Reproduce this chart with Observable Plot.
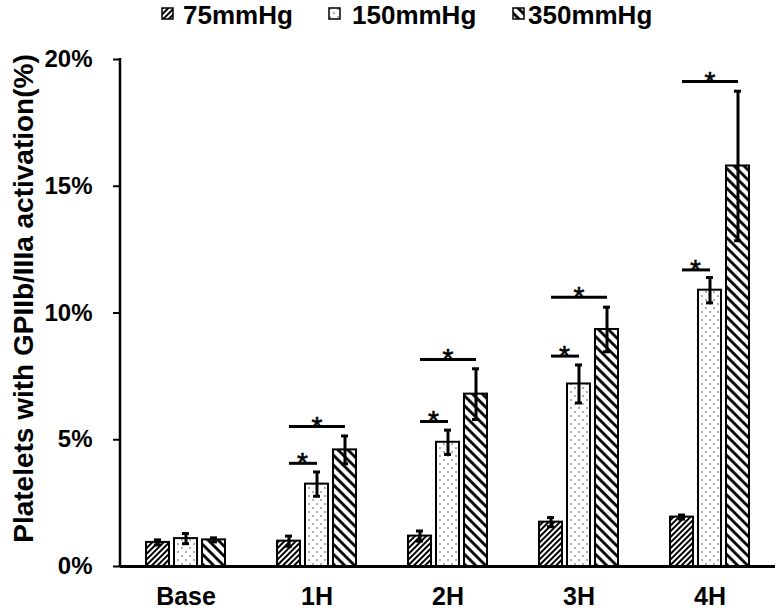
<!DOCTYPE html>
<html>
<head>
<meta charset="utf-8">
<script src="https://cdn.jsdelivr.net/npm/d3@7"></script>
<script src="https://cdn.jsdelivr.net/npm/@observablehq/plot@0.6"></script>
<style>
  body { margin: 0; background: #fff; font-family: Arial, "Liberation Sans", sans-serif; }
  #legend { position: relative; width: 780px; height: 30px; }
  #legend .sw { position: absolute; top: 7px; width: 13px; height: 13px; }
  #legend .lbl { position: absolute; top: 1px; height: 29px; line-height: 29px; font-size: 26px; font-weight: bold; color: #000; white-space: nowrap; }
</style>
</head>
<body>
<svg width="0" height="0" style="position:absolute">
  <defs>
    <pattern id="p75" patternUnits="userSpaceOnUse" width="4" height="4" patternTransform="rotate(45)">
      <rect width="4" height="4" fill="#fff"/>
      <line x1="2" y1="0" x2="2" y2="4" stroke="#000" stroke-width="2"/>
    </pattern>
    <pattern id="p150" patternUnits="userSpaceOnUse" width="8" height="8">
      <rect width="8" height="8" fill="#fff"/>
      <circle cx="2" cy="2" r="0.8" fill="#444"/>
      <circle cx="6" cy="6" r="0.8" fill="#444"/>
    </pattern>
    <pattern id="p350" patternUnits="userSpaceOnUse" width="7" height="7" patternTransform="rotate(-45)">
      <rect width="7" height="7" fill="#fff"/>
      <line x1="3.5" y1="0" x2="3.5" y2="7" stroke="#000" stroke-width="2.8"/>
    </pattern>
  </defs>
</svg>
<div id="legend"></div>
<div id="chart"></div>
<script>
// ---- data ----
const categories = ["Base", "1H", "2H", "3H", "4H"];
const series = ["75mmHg", "150mmHg", "350mmHg"];
const mean75  = [0.95, 1.0, 1.2, 1.75, 1.95];
const sd75    = [0.1, 0.2, 0.2, 0.18, 0.08];
const mean150 = [1.1, 3.25, 4.9, 7.2, 10.9];
const sd150   = [0.2, 0.48, 0.48, 0.75, 0.5];
const mean350 = [1.05, 4.6, 6.8, 9.35, 15.8];
const sd350   = [0.08, 0.55, 1.0, 0.88, 2.95];
const yTicks = [0, 5, 10, 15, 20];
const bracketCats = ["1H", "2H", "3H", "4H"];
const shortBracketY = [4.07, 5.72, 8.3, 11.7];
const longBracketY  = [5.52, 8.17, 10.62, 19.13];
const yLabel = "Platelets with GPIIb/IIIa activation(%)";

// ---- styles ----
const fills = {"75mmHg": "url(#p75)", "150mmHg": "url(#p150)", "350mmHg": "url(#p350)"};

// ---- tables ----
const means = [mean75, mean150, mean350];
const sds = [sd75, sd150, sd350];
const rows = [];
categories.forEach((c, i) => series.forEach((s, j) => rows.push({cat: c, series: s, value: means[j][i], err: sds[j][i]})));
const shortRows = bracketCats.map((c, i) => ({cat: c, y: shortBracketY[i]}));
const longRows = bracketCats.map((c, i) => ({cat: c, y: longBracketY[i]}));

// ---- legend ----
const legendPos = [[161, 183], [328, 352], [512, 528]];
const legend = document.getElementById("legend");
series.forEach((s, j) => {
  const sw = document.createElementNS("http://www.w3.org/2000/svg", "svg");
  sw.setAttribute("class", "sw");
  sw.style.left = legendPos[j][0] + "px";
  sw.innerHTML = `<rect x="1" y="1" width="11" height="11" fill="${fills[s]}" stroke="#000" stroke-width="1.5"/>`;
  legend.appendChild(sw);
  const t = document.createElement("span");
  t.className = "lbl";
  t.style.left = legendPos[j][1] + "px";
  t.textContent = s;
  legend.appendChild(t);
});

// ---- chart ----
const font = "Arial, 'Liberation Sans', sans-serif";
const chart = Plot.plot({
  width: 780,
  height: 581,
  marginLeft: 120,
  marginRight: 5,
  marginTop: 29,
  marginBottom: 45,
  style: {fontFamily: font, background: "#fff", color: "#000", overflow: "visible"},
  fx: {domain: categories, padding: 0, label: null},
  x: {domain: series, paddingInner: 0.17, paddingOuter: 0.85, axis: null},
  y: {domain: [0, 20], ticks: yTicks, label: null},
  color: {type: "identity"},
  marks: [
    Plot.axisY({ticks: yTicks, tickFormat: d => d + "%", tickSize: 7, tickPadding: 21, fontSize: 24, fontWeight: "bold", strokeWidth: 2, label: null}),
    Plot.axisFx({anchor: "bottom", tickSize: 0, tickPadding: 21, fontSize: 25, fontWeight: "bold", label: null}),
    Plot.barY(rows, {fx: "cat", x: "series", y: "value", fill: d => fills[d.series], stroke: "#000", strokeWidth: 2}),
    Plot.ruleX(rows, {fx: "cat", x: "series", y1: d => d.value - d.err, y2: d => d.value + d.err, stroke: "#000", strokeWidth: 3}),
    Plot.tickY(rows, {fx: "cat", x: "series", y: d => d.value + d.err, insetLeft: 8, insetRight: 8, stroke: "#000", strokeWidth: 3}),
    Plot.tickY(rows, {fx: "cat", x: "series", y: d => d.value - d.err, insetLeft: 8, insetRight: 8, stroke: "#000", strokeWidth: 3}),
    Plot.ruleY([0], {stroke: "#000", strokeWidth: 3}),
    Plot.link(shortRows, {fx: "cat", x1: () => "75mmHg", x2: () => "150mmHg", y1: "y", y2: "y", stroke: "#000", strokeWidth: 3}),
    Plot.link(longRows, {fx: "cat", x1: () => "75mmHg", x2: () => "350mmHg", y1: "y", y2: "y", stroke: "#000", strokeWidth: 3}),
    Plot.text(shortRows, {fx: "cat", x: () => "150mmHg", y: "y", text: () => "*", dx: -14.5, dy: 0, fontSize: 28, fill: "#000", stroke: "#000", strokeWidth: 0.6}),
    Plot.text(longRows, {fx: "cat", x: () => "150mmHg", y: "y", text: () => "*", dy: 0, fontSize: 28, fill: "#000", stroke: "#000", strokeWidth: 0.6})
  ]
});
document.getElementById("chart").appendChild(chart);

// y-axis line and rotated y-axis title
const ys = chart.scale("y");
const svg = d3.select(chart);
svg.append("line")
  .attr("x1", 120).attr("x2", 120)
  .attr("y1", ys.apply(20) - 1).attr("y2", ys.apply(0))
  .attr("stroke", "#000").attr("stroke-width", 2.5);
const midY = (ys.apply(0) + ys.apply(20)) / 2;
svg.append("text")
  .attr("transform", `translate(23,${midY - 14}) rotate(-90)`)
  .attr("text-anchor", "middle")
  .attr("dominant-baseline", "central")
  .attr("font-family", font)
  .attr("font-size", 28)
  .attr("font-weight", "bold")
  .attr("fill", "#000")
  .text(yLabel);
</script>
</body>
</html>
